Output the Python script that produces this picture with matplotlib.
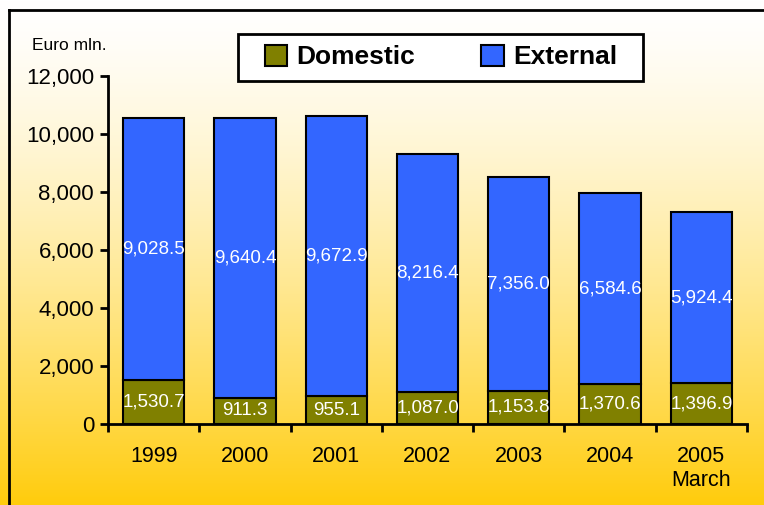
import numpy as np
import matplotlib
matplotlib.use("Agg")
import matplotlib.pyplot as plt
from matplotlib.lines import Line2D
from matplotlib.patches import Rectangle

plt.rcParams['font.family'] = ['Liberation Sans', 'DejaVu Sans']

years = ["1999", "2000", "2001", "2002", "2003", "2004", "2005\nMarch"]
domestic = [1530.7, 911.3, 955.1, 1087.0, 1153.8, 1370.6, 1396.9]
external = [9028.5, 9640.4, 9672.9, 8216.4, 7356.0, 6584.6, 5924.4]

olive = '#808000'
blue = '#3366FF'

fig = plt.figure(figsize=(7.64, 5.05), dpi=100)

# white-to-gold background
bg = fig.add_axes([0, 0, 1, 1], zorder=-10)
grad = np.linspace(0, 1, 256)[:, None]
top = np.array([1.0, 1.0, 1.0])
bot = np.array([1.0, 0.80, 0.05])
img = top + (bot - top) * grad[:, :, None] ** 1.4
img = np.repeat(img, 2, axis=1)
bg.imshow(img, aspect='auto', extent=[0, 1, 0, 1], origin='upper')
bg.axis('off')

# frame around the chart area (top and left edges)
fig.add_artist(Line2D([9 / 764, 9 / 764], [0, 1 - 10 / 505], transform=fig.transFigure, color='black', lw=2))
fig.add_artist(Line2D([9 / 764, 1], [1 - 10 / 505, 1 - 10 / 505], transform=fig.transFigure, color='black', lw=2))

ax = fig.add_axes([108 / 764, 1 - 424 / 505, (747 - 108) / 764, (424 - 76) / 505])
ax.patch.set_alpha(0)

x = np.arange(len(years))
w = 0.67
b1 = ax.bar(x, domestic, w, color=olive, edgecolor='black', linewidth=1.5, label='Domestic')
b2 = ax.bar(x, external, w, bottom=domestic, color=blue, edgecolor='black', linewidth=1.5, label='External')

for i in range(len(years)):
    ax.text(x[i], domestic[i] / 2, f"{domestic[i]:,.1f}", ha='center', va='center', color='white', fontsize=13.5)
    ax.text(x[i], domestic[i] + external[i] / 2, f"{external[i]:,.1f}", ha='center', va='center', color='white', fontsize=13.5)

ax.set_xlim(-0.5, len(years) - 0.5)
ax.set_ylim(0, 12000)
ax.set_yticks(range(0, 12001, 2000))
ax.set_yticklabels([f"{v:,}" for v in range(0, 12001, 2000)], fontsize=16)
ax.set_xticks(x)
ax.set_xticklabels(years, fontsize=15.5, linespacing=1.2)
ax.set_xticks(np.arange(-0.5, len(years), 1), minor=True)
ax.tick_params(axis='x', which='major', length=0, pad=16)
ax.tick_params(axis='x', which='minor', length=6, width=2, direction='out')
ax.tick_params(axis='y', length=6, width=2, direction='out', pad=4)
for s in ['top', 'right']:
    ax.spines[s].set_visible(False)
for s in ['left', 'bottom']:
    ax.spines[s].set_linewidth(2)

fig.text(32 / 764, 1 - 46 / 505, "Euro mln.", fontsize=12.5, va='center', ha='left')

# legend box
fig.add_artist(Rectangle((238 / 764, 1 - 81 / 505), 405 / 764, 47 / 505, transform=fig.transFigure,
                         facecolor='white', edgecolor='black', linewidth=2, zorder=2))
leg = fig.legend(handles=[b1, b2], loc='center', bbox_to_anchor=(441 / 764, 1 - 57 / 505),
                 ncol=2, frameon=False, prop={'weight': 'bold', 'size': 19},
                 handlelength=0.85, handleheight=0.85, handletextpad=0.35, columnspacing=2.5,
                 borderpad=0.3, borderaxespad=0)
leg.set_zorder(3)

fig.savefig("out.png", dpi=100)
